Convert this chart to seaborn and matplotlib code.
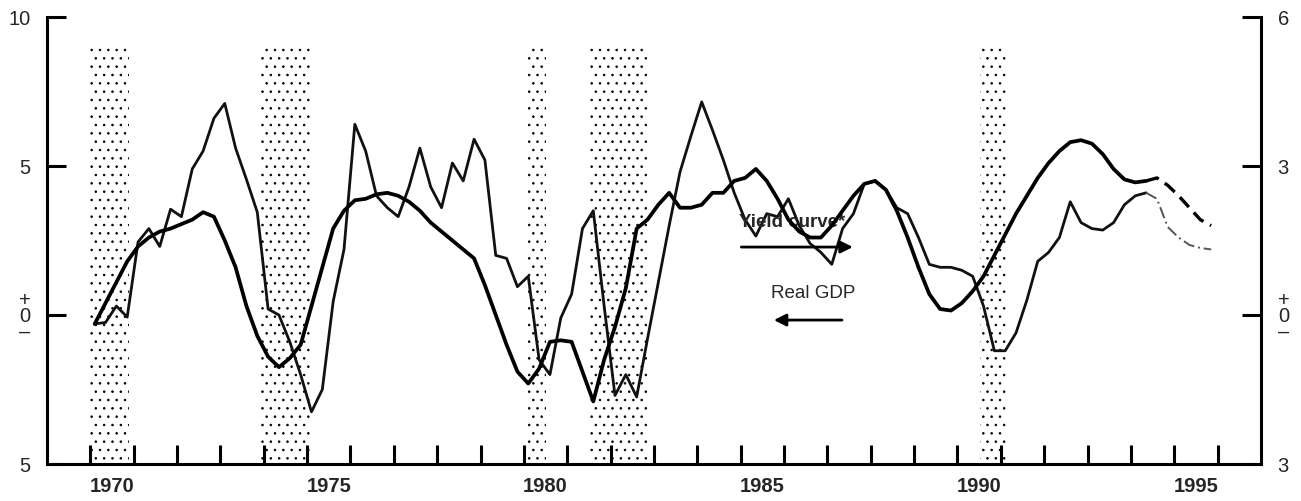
import numpy as np
import pandas as pd
import matplotlib
matplotlib.use("Agg")
import matplotlib.pyplot as plt
import seaborn as sns
from matplotlib.ticker import FixedLocator

# ---------------- data ----------------
first_quarter_pos = 1970.1      # plotting position of 1970:Q1
quarter_step = 0.25

# Real GDP, four-quarter percent change (left axis), 1970:Q1 - 1994:Q2
gdp_actual = [
    -0.3, -0.25, 0.3, -0.07, 2.45, 2.9, 2.3, 3.55, 3.3, 4.9,
    5.5, 6.6, 7.1, 5.6, 4.55, 3.45, 0.2, 0.0, -0.9, -2.0,
    -3.25, -2.5, 0.45, 2.2, 6.4, 5.5, 4.0, 3.6, 3.3, 4.3,
    5.6, 4.3, 3.6, 5.1, 4.5, 5.9, 5.2, 2.0, 1.9, 0.95,
    1.3, -1.5, -2.0, -0.1, 0.7, 2.9, 3.5, 0.3, -2.7, -2.0,
    -2.75, -0.8, 1.1, 3.0, 4.8, 6.0, 7.15, 6.2, 5.2, 4.1,
    3.2, 2.65, 3.4, 3.3, 3.9, 3.0, 2.4, 2.1, 1.7, 2.9,
    3.4, 4.4, 4.5, 4.2, 3.6, 3.4, 2.6, 1.7, 1.6, 1.6,
    1.5, 1.3, 0.3, -1.2, -1.2, -0.6, 0.5, 1.8, 2.1, 2.6,
    3.8, 3.1, 2.9, 2.85, 3.1, 3.7, 4.0, 4.1,
]
# Real GDP projection, 1994:Q2 - 1995:Q4
gdp_projection = [4.1, 3.9, 2.95, 2.6, 2.35, 2.25, 2.2]

# Yield curve* (right axis, percentage points), 1970:Q1 - 1994:Q2
yield_actual = [
    -0.18, 0.24, 0.66, 1.08, 1.38, 1.56, 1.68, 1.74, 1.83, 1.92,
    2.07, 1.98, 1.50, 0.96, 0.18, -0.42, -0.84, -1.05, -0.87, -0.60,
    0.18, 0.96, 1.74, 2.10, 2.31, 2.34, 2.43, 2.46, 2.40, 2.28,
    2.10, 1.86, 1.68, 1.50, 1.32, 1.14, 0.60, 0.00, -0.60, -1.14,
    -1.38, -1.08, -0.54, -0.51, -0.54, -1.14, -1.74, -0.90, -0.24, 0.54,
    1.74, 1.92, 2.22, 2.46, 2.16, 2.16, 2.22, 2.46, 2.46, 2.70,
    2.76, 2.94, 2.70, 2.34, 1.92, 1.68, 1.56, 1.56, 1.80, 2.10,
    2.40, 2.64, 2.70, 2.52, 2.10, 1.56, 0.96, 0.42, 0.12, 0.09,
    0.24, 0.48, 0.78, 1.20, 1.62, 2.04, 2.40, 2.76, 3.06, 3.30,
    3.48, 3.52, 3.45, 3.24, 2.94, 2.73, 2.67, 2.70,
]
# Yield curve projection, 1994:Q2 - 1995:Q4
yield_projection = [2.70, 2.76, 2.61, 2.40, 2.16, 1.92, 1.80]

# NBER recessions (start, end) in fractional years
recessions = [(1969.98, 1970.90), (1973.91, 1975.10), (1980.06, 1980.52),
              (1981.52, 1982.87), (1990.52, 1991.13)]

year_ticks = list(range(1970, 1997))
year_labels = ["1970", "1975", "1980", "1985", "1990", "1995"]
left_ticks = [-5, 0, 5, 10]
left_labels = ["5", "+\n0\n\u2013", "5", "10"]
right_ticks = [-3, 0, 3, 6]
right_labels = ["3", "+\n0\n\u2013", "3", "6"]

# ---------------- frames ----------------
n_act = len(gdp_actual)
t_act = [first_quarter_pos + quarter_step * i for i in range(n_act)]
t_proj = [first_quarter_pos + quarter_step * (n_act - 1 + i) for i in range(len(gdp_projection))]
df_act = pd.DataFrame({"t": t_act, "gdp": gdp_actual, "yc": yield_actual})
df_proj = pd.DataFrame({"t": t_proj, "gdp": gdp_projection, "yc": yield_projection})

# ---------------- style ----------------
sns.set_theme(style="white")
plt.rcParams["font.family"] = ["Liberation Sans", "DejaVu Sans"]
plt.rcParams["hatch.linewidth"] = 0.6
plt.rcParams["hatch.color"] = "black"

fig = plt.figure(figsize=(13.01, 5.02), dpi=100)
ax = fig.add_axes([47 / 1301, 37 / 502, 1214 / 1301, 447 / 502])
ax2 = ax.twinx()

ax.set_xlim(1969, 1997)
ax.set_ylim(-5, 10)
ax2.set_ylim(-3, 6)

# recession shading
for s, e in recessions:
    ax.axvspan(s, e, ymin=0, ymax=0.933, facecolor="none", edgecolor="black",
               hatch="..", linewidth=0, zorder=0)

# lines
sns.lineplot(data=df_act, x="t", y="gdp", ax=ax, color="#111111", linewidth=2.0, zorder=3)
sns.lineplot(data=df_proj, x="t", y="gdp", ax=ax, color="#555555", linewidth=1.4,
             linestyle=(0, (6, 2, 1, 2)), zorder=3)
sns.lineplot(data=df_act, x="t", y="yc", ax=ax2, color="black", linewidth=2.7, zorder=3)
sns.lineplot(data=df_proj, x="t", y="yc", ax=ax2, color="black", linewidth=2.4,
             linestyle=(0, (4, 2.2)), zorder=3)

# spines
for a in (ax, ax2):
    for sp in a.spines.values():
        sp.set_visible(False)
        sp.set_linewidth(2.2)
        sp.set_color("black")
ax.spines["left"].set_visible(True)
ax.spines["bottom"].set_visible(True)
ax2.spines["right"].set_visible(True)

# x ticks
ax.set_xticks(year_ticks)
ax.set_xticklabels([])
ax.set_xticks([int(y) + 0.5 for y in year_labels], minor=True)
ax.set_xticklabels(year_labels, minor=True, fontsize=14.5, fontweight="bold")
ax.tick_params(axis="x", which="major", direction="in", length=14, width=2.2,
               bottom=True, color="black")
ax.tick_params(axis="x", which="minor", length=0, pad=9, bottom=True)

# y ticks
ax.set_yticks(left_ticks)
ax.set_yticklabels(left_labels, fontsize=14.5, linespacing=0.8, multialignment="center")
ax.yaxis.set_minor_locator(FixedLocator([10]))
ax.tick_params(axis="y", which="major", direction="in", length=14, width=2.2, pad=12,
               left=True, color="black")
ax.tick_params(axis="y", which="minor", direction="in", length=28, width=2.2, left=True,
               color="black")

ax2.set_yticks(right_ticks)
ax2.set_yticklabels(right_labels, fontsize=14.5, linespacing=0.8, multialignment="center")
ax2.yaxis.set_minor_locator(FixedLocator([6]))
ax2.tick_params(axis="y", which="major", direction="in", length=14, width=2.2, pad=12,
                right=True, color="black")
ax2.tick_params(axis="y", which="minor", direction="in", length=28, width=2.2, right=True,
                color="black")

ax.set_xlabel("")
ax.set_ylabel("")
ax2.set_ylabel("")

# annotations
ax.text(1984.95, 3.15, "Yield curve*", fontsize=13.5, fontweight="bold", ha="left", va="center",
        zorder=5)
ax.annotate("", xy=(1987.65, 2.28), xytext=(1984.95, 2.28),
            arrowprops=dict(arrowstyle="-|>", color="black", lw=2, mutation_scale=18))
ax.text(1985.7, 0.77, "Real GDP", fontsize=13.5, ha="left", va="center")
ax.annotate("", xy=(1985.7, -0.17), xytext=(1987.4, -0.17),
            arrowprops=dict(arrowstyle="-|>", color="black", lw=2, mutation_scale=18))

ax.patch.set_alpha(0)
fig.savefig("out.png", dpi=100)
